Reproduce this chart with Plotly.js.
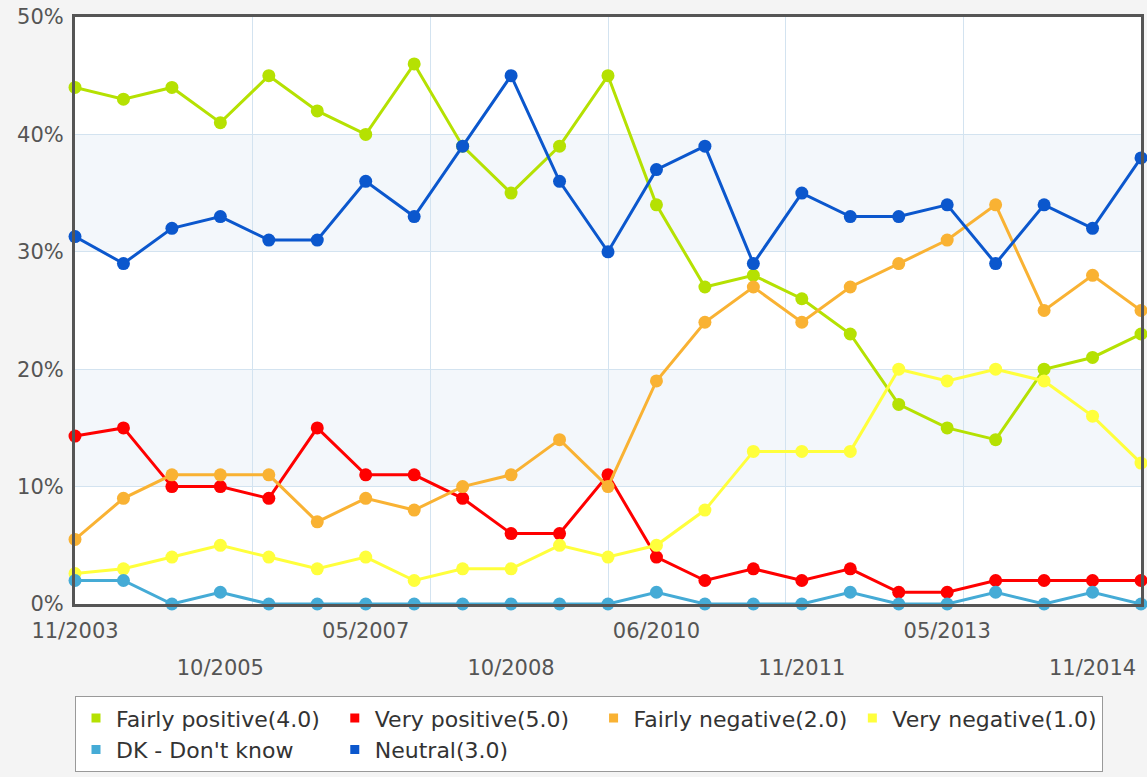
<!DOCTYPE html>
<html>
<head>
<meta charset="utf-8">
<script src="https://cdn.plot.ly/plotly-3.0.1.min.js"></script>
<style>
  html, body { margin: 0; padding: 0; background: #f4f4f4; }
  #chart { width: 1147px; height: 777px; }
</style>
</head>
<body>
<div id="chart"></div>
<script>
// Survey waves (index positions along the x axis)
const waves = Array.from({length: 23}, (_, i) => i);

// Tick labels shown on two alternating rows
const tickRow1Pos = [0, 6, 12, 18];
const tickRow1Text = ["11/2003", "05/2007", "06/2010", "05/2013"];
const tickRow2Pos = [3, 9, 15, 21];
const tickRow2Text = ["10/2005", "10/2008", "11/2011", "11/2014"];

// Series values (%)
const fairlyPositive = [44, 43, 44, 41, 45, 42, 40, 46, 39, 35, 39, 45, 34, 27, 28, 26, 23, 17, 15, 14, 20, 21, 23];
const veryPositive   = [14.3, 15, 10, 10, 9, 15, 11, 11, 9, 6, 6, 11, 4, 2, 3, 2, 3, 1, 1, 2, 2, 2, 2];
const fairlyNegative = [5.5, 9, 11, 11, 11, 7, 9, 8, 10, 11, 14, 10, 19, 24, 27, 24, 27, 29, 31, 34, 25, 28, 25];
const veryNegative   = [2.6, 3, 4, 5, 4, 3, 4, 2, 3, 3, 5, 4, 5, 8, 13, 13, 13, 20, 19, 20, 19, 16, 12];
const dontKnow       = [2, 2, 0, 1, 0, 0, 0, 0, 0, 0, 0, 0, 1, 0, 0, 0, 1, 0, 0, 1, 0, 1, 0];
const neutral        = [31.3, 29, 32, 33, 31, 31, 36, 33, 39, 45, 36, 30, 37, 39, 29, 35, 33, 33, 34, 29, 34, 32, 38];

const seriesNames = ["Fairly positive(4.0)", "Very positive(5.0)", "Fairly negative(2.0)",
                     "Very negative(1.0)", "DK - Don't know", "Neutral(3.0)"];
const seriesValues = [fairlyPositive, veryPositive, fairlyNegative, veryNegative, dontKnow, neutral];
const seriesColors = ["#b5e102", "#ff0000", "#f9b233", "#ffff3c", "#45abd6", "#0b57cd"];

const traces = [];
seriesValues.forEach((vals, k) => {
  traces.push({
    x: waves, y: vals, type: "scatter", mode: "lines+markers",
    name: seriesNames[k], showlegend: false, cliponaxis: false,
    line: {color: seriesColors[k], width: 3},
    marker: {color: seriesColors[k], size: 13},
    hoverinfo: "skip"
  });
});
// legend-only entries with square swatches (bound to the second-row label axis)
seriesValues.forEach((vals, k) => {
  traces.push({
    x: [null], y: [null], type: "scatter", mode: "markers",
    xaxis: "x2", yaxis: "y",
    name: seriesNames[k], showlegend: true,
    marker: {color: seriesColors[k], size: 9, symbol: "square"}
  });
});

const tickFont = {family: "DejaVu Sans", size: 21, color: "#555"};

const layout = {
  width: 1147, height: 777,
  paper_bgcolor: "#f4f4f4",
  plot_bgcolor: "#ffffff",
  margin: {l: 75, r: 6, t: 17, b: 172},
  showlegend: true,
  xaxis: {
    range: [0, 22], tickmode: "array", tickvals: tickRow1Pos, ticktext: tickRow1Text,
    showgrid: false, zeroline: false, ticks: "",
    minor: {tickmode: "linear", tick0: 0, dtick: 22 / 6, showgrid: true,
            gridcolor: "#d3e3f0", gridwidth: 1, ticks: ""},
    showline: true, mirror: true, linecolor: "#555", linewidth: 3,
    tickfont: tickFont, ticklabelstandoff: 6
  },
  xaxis2: {
    overlaying: "x", anchor: "y", side: "bottom",
    range: [0, 22], tickmode: "array", tickvals: tickRow2Pos, ticktext: tickRow2Text,
    showgrid: false, zeroline: false, showline: false, ticks: "",
    tickfont: tickFont, ticklabelstandoff: 49
  },
  yaxis: {
    range: [0, 50], tickmode: "linear", tick0: 0, dtick: 10, ticksuffix: "%",
    showgrid: true, gridcolor: "#d3e3f0", gridwidth: 1, zeroline: false, ticks: "",
    showline: true, mirror: true, linecolor: "#555", linewidth: 3,
    tickfont: tickFont, ticklabelstandoff: 4
  },
  shapes: [
    {type: "rect", xref: "paper", yref: "y", x0: 0, x1: 1, y0: 10, y1: 20,
     fillcolor: "#f3f7fb", line: {width: 0}, layer: "below"},
    {type: "rect", xref: "paper", yref: "y", x0: 0, x1: 1, y0: 30, y1: 40,
     fillcolor: "#f3f7fb", line: {width: 0}, layer: "below"}
  ],
  legend: {
    orientation: "h", x: 0, xanchor: "left", y: -0.155, yanchor: "top",
    bgcolor: "#ffffff", bordercolor: "#999", borderwidth: 1,
    font: {family: "DejaVu Sans", size: 22, color: "#333"},
    itemclick: false, itemdoubleclick: false
  }
};

Plotly.newPlot("chart", traces, layout, {displayModeBar: false, staticPlot: true});
</script>
</body>
</html>
